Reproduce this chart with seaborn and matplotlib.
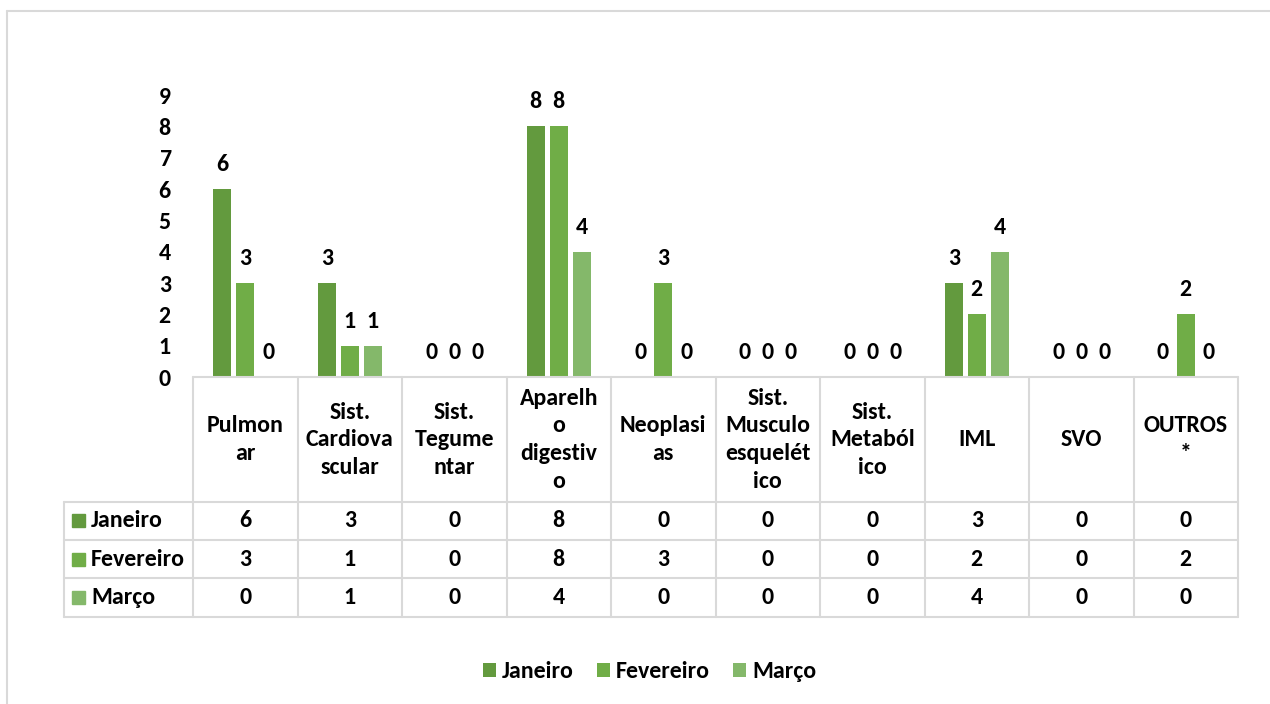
import matplotlib
matplotlib.use("Agg")
import matplotlib.pyplot as plt
import seaborn as sns
import pandas as pd
from matplotlib.patches import Rectangle, Patch
from matplotlib.lines import Line2D
from matplotlib.font_manager import FontProperties

# ---------------- data ----------------
categories = ["Pulmonar", "Sist. Cardiovascular", "Sist. Tegumentar", "Aparelho digestivo",
              "Neoplasias", "Sist. Musculoesquelético", "Sist. Metabólico", "IML", "SVO", "OUTROS*"]
header_labels = ["Pulmon\nar", "Sist.\nCardiova\nscular", "Sist.\nTegume\nntar",
                 "Aparelh\no\ndigestiv\no", "Neoplasi\nas", "Sist.\nMusculo\nesquelét\nico",
                 "Sist.\nMetaból\nico", "IML", "SVO", "OUTROS\n*"]
months = ["Janeiro", "Fevereiro", "Março"]
janeiro = [6, 3, 0, 8, 0, 0, 0, 3, 0, 0]
fevereiro = [3, 1, 0, 8, 3, 0, 0, 2, 0, 2]
marco = [0, 1, 0, 4, 0, 0, 0, 4, 0, 0]
yticks = list(range(0, 10))
colors = ["#639A3E", "#70AD47", "#84B86A"]

series = [janeiro, fevereiro, marco]
df = pd.DataFrame({
    "categoria": categories * 3,
    "mes": [m for m in months for _ in categories],
    "valor": janeiro + fevereiro + marco,
})

# ---------------- style ----------------
sns.set_theme(style="white")
plt.rcParams["font.family"] = ["Carlito", "DejaVu Sans"]
plt.rcParams["font.weight"] = "bold"
plt.rcParams["text.color"] = "black"
FS = 17.2
GRID = "#D9D9D9"

W, H = 1270, 704
fig = plt.figure(figsize=(W / 100, H / 100), dpi=100)

# ---------------- bar area ----------------
ax = fig.add_axes([193 / W, 1 - 377 / H, (1238 - 193) / W, (377 - 95) / H])
sns.barplot(data=df, x="categoria", y="valor", hue="mes", palette=colors, order=categories,
            hue_order=months, width=0.66, gap=0.22, saturation=1, ax=ax, legend=False,
            edgecolor="none", errorbar=None)
ax.set_xlim(-0.5, len(categories) - 0.5)
ax.set_ylim(0, 9)
ax.set_yticks(yticks)
ax.set_yticklabels([str(t) for t in yticks], fontsize=FS, fontweight="bold", color="black")
ax.tick_params(axis="y", length=0, pad=16)
ax.set_xticks([])
ax.set_xlabel("")
ax.set_ylabel("")
for s in ax.spines.values():
    s.set_visible(False)
for cont in ax.containers:
    ax.bar_label(cont, fmt="%d", padding=10, fontsize=FS, fontweight="bold", color="black")

# ---------------- data table ----------------
tax = fig.add_axes([64 / W, 1 - 617 / H, (1238 - 64) / W, (617 - 377) / H])
unit = (1238 - 193) / len(categories)
xleft = -0.5 - (193 - 64) / unit
xright = len(categories) - 0.5
tax.set_xlim(xleft, xright)
tax.set_ylim(240, 0)
tax.axis("off")

row_edges = [124.7, 163, 201, 240]
lw = 1.5
tax.add_line(Line2D([-0.5, xright], [0, 0], color=GRID, lw=lw, clip_on=False))
for y in row_edges:
    tax.add_line(Line2D([xleft, xright], [y, y], color=GRID, lw=lw, clip_on=False))
for i in range(len(categories) + 1):
    x = -0.5 + i
    tax.add_line(Line2D([x, x], [0, 240], color=GRID, lw=lw, clip_on=False))
tax.add_line(Line2D([xleft, xleft], [row_edges[0], 240], color=GRID, lw=lw, clip_on=False))

# header labels: one text per wrapped line, fixed baseline step
base_mid, step = 69.3, 27.8
for i, lab in enumerate(header_labels):
    parts = lab.split("\n")
    n = len(parts)
    for k, part in enumerate(parts):
        tax.text(i, base_mid + (k - (n - 1) / 2) * step, part, ha="center", va="baseline",
                 fontsize=FS, fontweight="bold", color="black")

for r, (m, vals, c) in enumerate(zip(months, series, colors)):
    yc = (row_edges[r] + row_edges[r + 1]) / 2
    sq = 13
    x0 = xleft + (72 - 64) / unit
    tax.add_patch(Rectangle((x0, yc - sq / 2), sq / unit, sq, color=c, clip_on=False))
    tax.text(xleft + (91 - 64) / unit, yc, m, ha="left", va="center", fontsize=FS,
             fontweight="bold", color="black")
    for i, v in enumerate(vals):
        tax.text(i, yc, str(v), ha="center", va="center", fontsize=FS, fontweight="bold",
                 color="black")

# ---------------- legend ----------------
legend_font = FontProperties(family="Carlito", weight=700, size=FS)
handles = [Patch(facecolor=c, edgecolor="none", label=m) for m, c in zip(months, colors)]
leg = fig.legend(handles=handles, loc="center", bbox_to_anchor=(649.5 / W, 1 - 672 / H), ncol=3,
                 frameon=False, handlelength=0.56, handleheight=0.56, handletextpad=0.25,
                 columnspacing=0.95, prop=legend_font, labelcolor="black")

# ---------------- outer frame (top and left edges) ----------------
fig.add_artist(Line2D([7 / W, 1], [1 - 11 / H, 1 - 11 / H], transform=fig.transFigure,
                      color="#D9D9D9", lw=1.5))
fig.add_artist(Line2D([7 / W, 7 / W], [1 - 11 / H, 0], transform=fig.transFigure,
                      color="#D9D9D9", lw=1.5))

fig.savefig("out.png", dpi=100, facecolor="white")
